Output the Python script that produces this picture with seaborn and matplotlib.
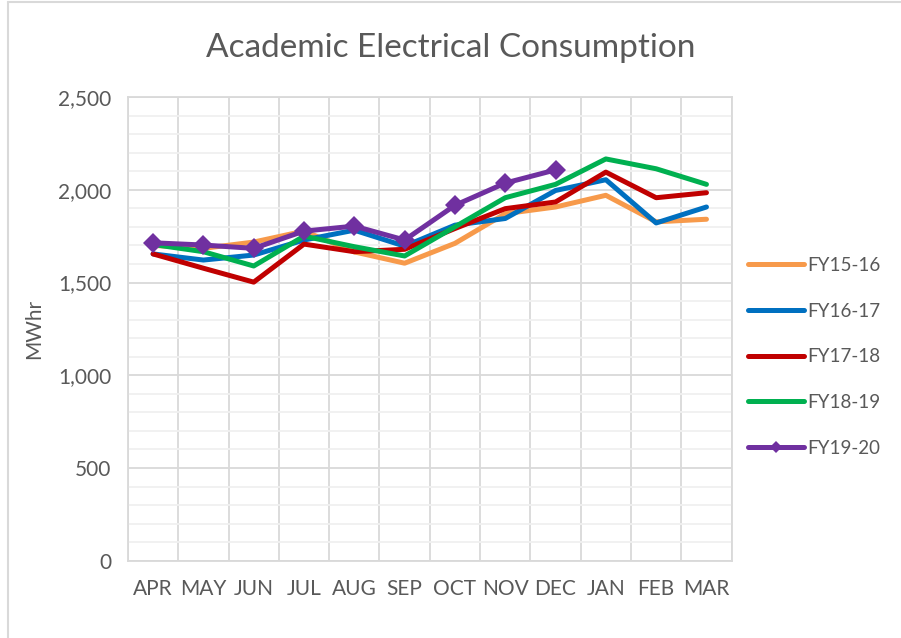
import numpy as np
import pandas as pd
import matplotlib
matplotlib.use('Agg')
import matplotlib.pyplot as plt
import seaborn as sns
from matplotlib.ticker import MultipleLocator, FuncFormatter
from matplotlib.lines import Line2D

months = ['APR', 'MAY', 'JUN', 'JUL', 'AUG', 'SEP', 'OCT', 'NOV', 'DEC', 'JAN', 'FEB', 'MAR']

fy15_16 = [1700, 1684, 1718, 1777, 1665, 1604, 1711, 1871, 1907, 1970, 1827, 1841]
fy16_17 = [1654, 1621, 1648, 1729, 1782, 1696, 1809, 1845, 1996, 2054, 1821, 1907]
fy17_18 = [1654, 1577, 1502, 1707, 1666, 1679, 1791, 1898, 1934, 2095, 1957, 1984]
fy18_19 = [1705, 1666, 1589, 1750, 1693, 1643, 1800, 1957, 2029, 2166, 2113, 2029]
fy19_20 = [1714, 1702, 1684, 1777, 1804, 1729, 1916, 2036, 2107]

series = {'FY15-16': fy15_16, 'FY16-17': fy16_17, 'FY17-18': fy17_18,
          'FY18-19': fy18_19, 'FY19-20': fy19_20}
colors = {'FY15-16': '#F79A4B', 'FY16-17': '#0070C0', 'FY17-18': '#C00000',
          'FY18-19': '#00B050', 'FY19-20': '#7030A0'}

sns.set_style('white')
plt.rcParams['font.family'] = ['Lato', 'DejaVu Sans']
grey = '#595959'

fig = plt.figure(figsize=(9.01, 6.38), dpi=100)
ax = fig.add_axes([0.142, 0.121, 0.670, 0.727])

for name, vals in series.items():
    df = pd.DataFrame({'Month': months[:len(vals)], 'MWhr': vals})
    sns.lineplot(data=df, x='Month', y='MWhr', ax=ax, color=colors[name],
                 linewidth=3.6, sort=False, label=name,
                 marker='D' if name == 'FY19-20' else None,
                 markersize=10.5, markeredgewidth=0)

ax.set_xlim(-0.5, 11.5)
ax.set_ylim(0, 2500)
ax.yaxis.set_major_locator(MultipleLocator(500))
ax.yaxis.set_minor_locator(MultipleLocator(100))
ax.yaxis.set_major_formatter(FuncFormatter(lambda v, p: f'{int(v):,}'))
ax.set_xticks(range(12))
ax.set_xticklabels(months)
ax.set_xticks(np.arange(-0.5, 12, 1), minor=True)

ax.grid(which='major', axis='y', color='#d9d9d9', linewidth=1.3)
ax.grid(which='minor', axis='y', color='#f0f0f0', linewidth=1.3)
ax.grid(which='minor', axis='x', color='#d9d9d9', linewidth=1.3)
ax.set_axisbelow(True)
for s in ax.spines.values():
    s.set_color('#d9d9d9')
    s.set_linewidth(1.3)

ax.tick_params(axis='both', which='both', length=0, labelsize=15, colors=grey)
ax.tick_params(axis='x', pad=13)
ax.tick_params(axis='y', pad=12)
ax.set_xlabel('')
ax.set_ylabel('MWhr', fontsize=15, color=grey, labelpad=10)

# title is centred on the whole chart, not the plot area
fig.text(0.5, 1 - 57 / 638, 'Academic Electrical Consumption', fontsize=24,
         color=grey, ha='center', va='baseline')

leg = ax.legend(loc='center left', bbox_to_anchor=(1.0, 0.44), frameon=False,
                fontsize=13.5, handlelength=2.95, handletextpad=0.2, labelspacing=1.53)
for t in leg.get_texts():
    t.set_color(grey)
# the legend shows a smaller diamond than the plot
leg.legend_handles[-1].set_markersize(6)

# chart border: only the left and top edges are visible in the crop
fig.add_artist(Line2D([7.5 / 901, 7.5 / 901], [0, 1 - 1.5 / 638], transform=fig.transFigure,
                      color='#d9d9d9', linewidth=1.5))
fig.add_artist(Line2D([7.5 / 901, 1], [1 - 1.5 / 638, 1 - 1.5 / 638], transform=fig.transFigure,
                      color='#d9d9d9', linewidth=1.5))

fig.savefig('out.png', dpi=100)
